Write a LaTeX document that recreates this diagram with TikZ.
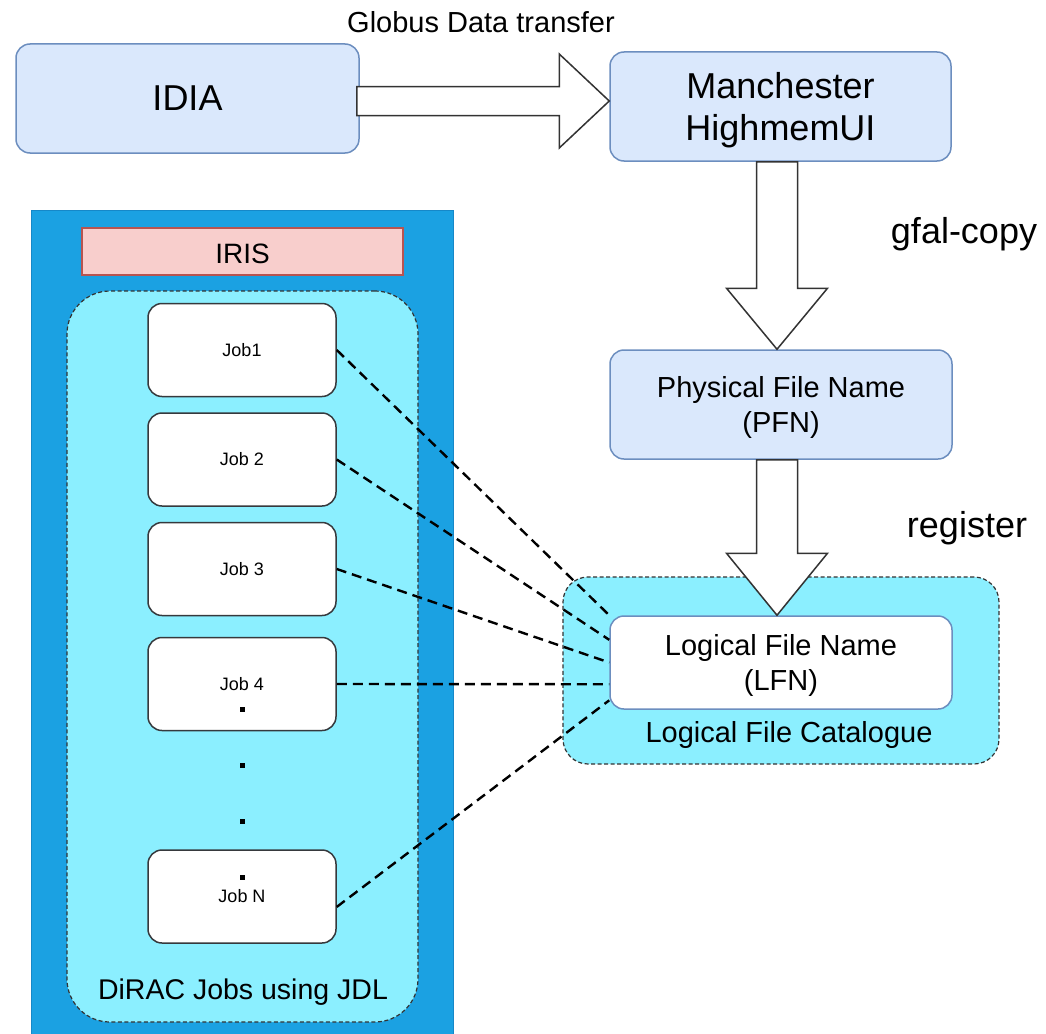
\documentclass[tikz,border=0pt]{standalone}
\usepackage{fontspec}
\setmainfont{Liberation Sans}
\usetikzlibrary{calc}
\definecolor{fillblue}{HTML}{DAE8FC}
\definecolor{strokeblue}{HTML}{6C8EBF}
\definecolor{dblue}{HTML}{1BA1E2}
\definecolor{dbluestroke}{HTML}{1688C8}
\definecolor{cyanfill}{HTML}{8BEFFF}
\definecolor{irisfill}{HTML}{F8CECC}
\definecolor{irisstroke}{HTML}{B85450}
\definecolor{jobstroke}{HTML}{36393D}
\definecolor{arrowstroke}{HTML}{333333}
\newcommand\fsz[2]{\fontsize{#1}{#2}\selectfont}
\tikzset{
  bluebox/.style={draw=strokeblue, fill=fillblue, line width=1.5pt, rounded corners=14pt, align=center, inner sep=0pt},
  whitebox/.style={draw=strokeblue, fill=white, line width=1.5pt, rounded corners=14pt, align=center, inner sep=0pt},
  jobbox/.style={draw=jobstroke, fill=white, line width=1.5pt, rounded corners=14pt, minimum width=188pt, minimum height=93pt, inner sep=0pt, font=\fsz{18}{21}},
  groupbox/.style={draw=arrowstroke, fill=cyanfill, line width=1.2pt, dash pattern=on 4pt off 2.5pt, inner sep=0pt},
  link/.style={draw=black, line width=2.4pt, dash pattern=on 10pt off 6pt},
  bigarrow/.style={draw=arrowstroke, fill=white, line width=1.5pt, line join=miter},
  lbl/.style={anchor=base, inner sep=0pt},
  jobdot/.style={fill=black, minimum size=5pt, inner sep=0pt}
}
\begin{document}
\begin{tikzpicture}[x=1pt,y=-1pt]
\useasboundingbox (0,0) rectangle (1046,1033);
\fill[white] (0,0) rectangle (1046,1033);

% left group
\node[draw=dbluestroke, fill=dblue, line width=1pt, minimum width=422pt, minimum height=826pt, inner sep=0pt] (cloud) at (242,623) {};
\node[draw=irisstroke, fill=irisfill, line width=1.5pt, minimum width=321pt, minimum height=47pt, inner sep=0pt] (iris) at (242.5,251.5) {};
\node[lbl, font=\fsz{28}{33}] (iristxt) at (242.5,263) {IRIS};
\node[groupbox, rounded corners=43pt, minimum width=351pt, minimum height=731pt] (dirac) at (242.5,656.5) {};
\node[lbl, font=\fsz{28.5}{34}] (dirtxt) at (243,999) {DiRAC Jobs using JDL};

\node[jobbox] (job1) at (242,350) {Job1};
\node[jobbox] (job2) at (242,459.5) {Job 2};
\node[jobbox] (job3) at (242,569) {Job 3};
\node[jobbox] (job4) at (242,684) {Job 4};
\node[jobbox] (jobn) at (242,896.5) {Job N};
\node[jobdot] (d1) at (242.5,709) {};
\node[jobdot] (d2) at (242.5,765) {};
\node[jobdot] (d3) at (242.5,821) {};
\node[jobdot] (d4) at (242.5,877) {};

% right group
\node[groupbox, rounded corners=25pt, minimum width=436pt, minimum height=187pt] (cat) at (781,670.5) {};
\node[lbl, font=\fsz{29}{35}] (cattxt) at (789,742) {Logical File Catalogue};
\node[whitebox, minimum width=342pt, minimum height=93pt, text depth=0pt, font=\fsz{29}{35}] (lfn) at (781,662.5) {Logical File Name\\(LFN)};

% dashed links
\draw[link] (job1.east) -- (lfn.north west);
\draw[link] (job2.east) -- ($(lfn.north west)!0.26!(lfn.south west)$);
\draw[link] (job3.east) -- (lfn.west);
\draw[link] (job4.east) -- ($(lfn.north west)!0.73!(lfn.south west)$);
\draw[link] ($(jobn.north east)!0.61!(jobn.south east)$) -- ($(lfn.north west)!0.90!(lfn.south west)$);

% top boxes
\node[bluebox, minimum width=343pt, minimum height=109pt, font=\fsz{36}{42}] (idia) at (187.5,98.5) {IDIA};
\node[bluebox, minimum width=341pt, minimum height=109pt, text depth=0pt, font=\fsz{36}{42}] (man) at (780.5,106.5) {Manchester\\HighmemUI};
\node[bluebox, minimum width=342pt, minimum height=109pt, text depth=0pt, font=\fsz{29}{35}] (pfn) at (781,404.5) {Physical File Name\\(PFN)};

% block arrows
\coordinate (a1s) at ($(idia.east)+(-3,2.5)$);
\coordinate (a1e) at (man.west |- a1s);
\draw[bigarrow] ($(a1s)+(0,-14.5)$) -- ($(a1e)+(-50,-14.5)$) -- ($(a1e)+(-50,-47)$) -- (a1e)
  -- ($(a1e)+(-50,47)$) -- ($(a1e)+(-50,14.5)$) -- ($(a1s)+(0,14.5)$) -- cycle;

\coordinate (a2s) at ($(man.south)+(-3.5,0)$);
\coordinate (a2e) at (a2s |- pfn.north);
\draw[bigarrow] ($(a2s)+(-20.5,0)$) -- ($(a2e)+(-20.5,-61)$) -- ($(a2e)+(-50.5,-61)$) -- (a2e)
  -- ($(a2e)+(50.5,-61)$) -- ($(a2e)+(20.5,-61)$) -- ($(a2s)+(20.5,0)$) -- cycle;

\coordinate (a3s) at ($(pfn.south)+(-4,0)$);
\coordinate (a3e) at (a3s |- lfn.north);
\draw[bigarrow] ($(a3s)+(-20.5,0)$) -- ($(a3e)+(-20.5,-62)$) -- ($(a3e)+(-50.5,-62)$) -- (a3e)
  -- ($(a3e)+(50.5,-62)$) -- ($(a3e)+(20.5,-62)$) -- ($(a3s)+(20.5,0)$) -- cycle;

% arrow labels
\node[lbl, font=\fsz{29}{35}] (globus) at (481,33) {Globus Data transfer};
\node[lbl, font=\fsz{36}{42}] (gfal) at (964,243) {gfal-copy};
\node[lbl, font=\fsz{36}{42}] (reg) at (967,537) {register};
\end{tikzpicture}
\end{document}
